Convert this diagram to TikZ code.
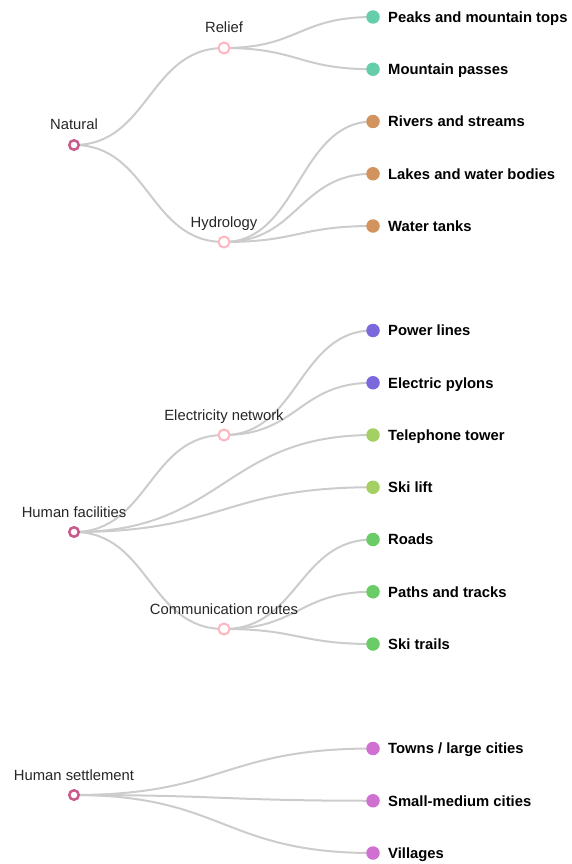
\documentclass[tikz,border=0pt]{standalone}
\usepackage{fontspec}
\setmainfont{Liberation Sans}
\usetikzlibrary{positioning,backgrounds}
\definecolor{rootc}{HTML}{C85A8C}
\definecolor{catc}{HTML}{FFB6C1}
\definecolor{linkc}{HTML}{CCCCCC}
\definecolor{reliefc}{HTML}{66CDAA}
\definecolor{hydroc}{HTML}{D2935E}
\definecolor{elecc}{HTML}{7B68DD}
\definecolor{facc}{HTML}{A4CF62}
\definecolor{commc}{HTML}{6ACC66}
\definecolor{settc}{HTML}{D070D0}
\tikzset{
  rootdot/.style={circle,draw=rootc,fill=white,line width=2.5pt,minimum size=9.5pt,inner sep=0pt},
  catdot/.style={circle,draw=catc,fill=white,line width=2pt,minimum size=11pt,inner sep=0pt},
  leafdot/.style={circle,fill=#1,minimum size=13.5pt,inner sep=0pt},
  tlink/.style={draw=linkc,line width=2pt},
  toplbl/.style={anchor=base,inner sep=0pt,font=\fontsize{14.8}{18}\selectfont,text=black!85},
  leaflbl/.style={anchor=base west,inner sep=0pt,font=\fontsize{14.8}{18}\selectfont\bfseries},
}
\begin{document}
\begin{tikzpicture}[x=1pt,y=-1pt]
  \useasboundingbox (0,0) rectangle (571,864);
  % roots and categories
  \node[rootdot] (nat) at (74,145) {};
  \node[rootdot] (hfac) at (74,532) {};
  \node[rootdot] (hset) at (74,795) {};
  \node[catdot] (rel) at (224,48) {};
  \node[catdot] (hyd) at (224,242) {};
  \node[catdot] (ele) at (224,435) {};
  \node[catdot] (com) at (224,629) {};
  \node[toplbl] at ([yshift=15pt]nat.center) {Natural};
  \node[toplbl] at ([yshift=15pt]hfac.center) {Human facilities};
  \node[toplbl] at ([yshift=15pt]hset.center) {Human settlement};
  \node[toplbl] at ([yshift=15pt]rel.center) {Relief};
  \node[toplbl] at ([yshift=15pt]hyd.center) {Hydrology};
  \node[toplbl] at ([yshift=15pt]ele.center) {Electricity network};
  \node[toplbl] at ([yshift=15pt]com.center) {Communication routes};
  % leaves
  \node[leafdot=reliefc] (pk) at (373,17) {};
  \node[leafdot=reliefc] (mp) at (373,69.25) {};
  \node[leafdot=hydroc] (riv) at (373,121.5) {};
  \node[leafdot=hydroc] (lak) at (373,173.75) {};
  \node[leafdot=hydroc] (wt) at (373,226) {};
  \node[leafdot=elecc] (pl) at (373,330.5) {};
  \node[leafdot=elecc] (py) at (373,382.75) {};
  \node[leafdot=facc] (tel) at (373,435) {};
  \node[leafdot=facc] (ski) at (373,487.25) {};
  \node[leafdot=commc] (rd) at (373,539.5) {};
  \node[leafdot=commc] (pth) at (373,591.75) {};
  \node[leafdot=commc] (st) at (373,644) {};
  \node[leafdot=settc] (tw) at (373,748.5) {};
  \node[leafdot=settc] (smc) at (373,800.75) {};
  \node[leafdot=settc] (vil) at (373,853) {};
  \foreach \n/\t in {pk/Peaks and mountain tops, mp/Mountain passes,
      riv/Rivers and streams, lak/Lakes and water bodies, wt/Water tanks,
      pl/Power lines, py/Electric pylons, tel/Telephone tower, ski/Ski lift,
      rd/Roads, pth/Paths and tracks, st/Ski trails,
      tw/{Towns / large cities}, smc/Small-medium cities, vil/Villages}
    \node[leaflbl] at ([xshift=15pt,yshift=-5.3pt]\n.center) {\t};
  % links
  \begin{scope}[on background layer]
    \foreach \a/\b in {nat/rel,nat/hyd,hfac/ele,hfac/com}
      \draw[tlink] (\a.center) .. controls +(75,0) and +(-75,0) .. (\b.center);
    \foreach \a/\b in {rel/pk,rel/mp,hyd/riv,hyd/lak,hyd/wt,ele/pl,ele/py,com/rd,com/pth,com/st}
      \draw[tlink] (\a.center) .. controls +(74.5,0) and +(-74.5,0) .. (\b.center);
    \foreach \a/\b in {hfac/tel,hfac/ski,hset/tw,hset/smc,hset/vil}
      \draw[tlink] (\a.center) .. controls +(149.5,0) and +(-149.5,0) .. (\b.center);
  \end{scope}
\end{tikzpicture}
\end{document}
